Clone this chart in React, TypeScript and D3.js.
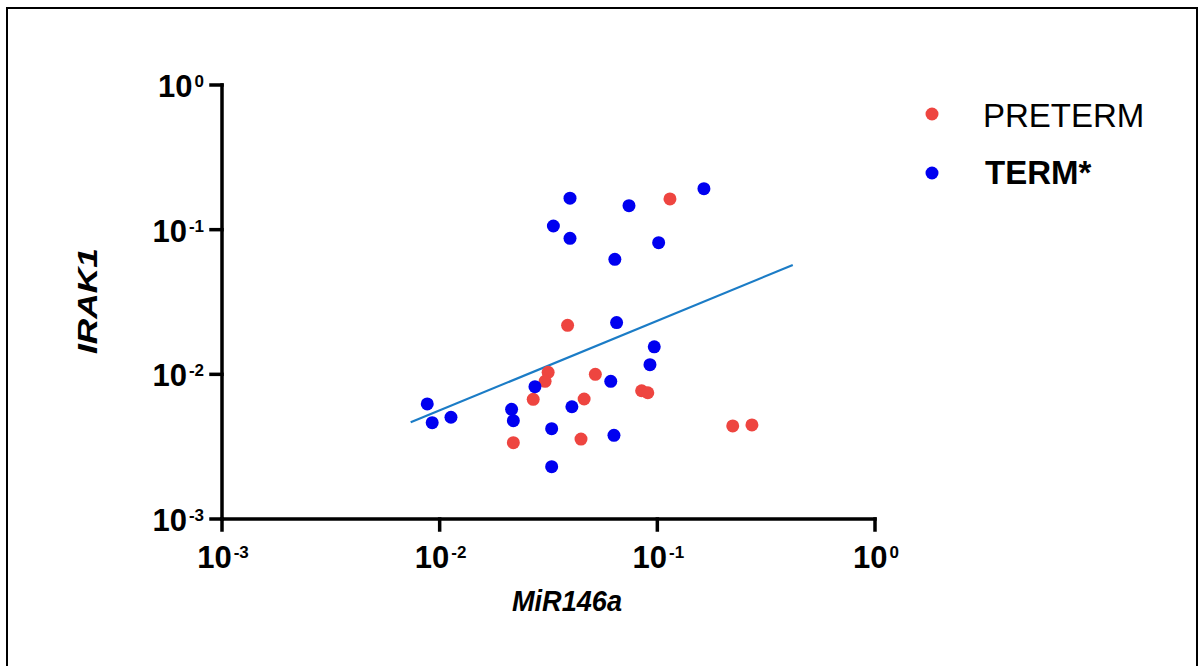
import React from "react";
import * as d3 from "d3";

const pretermX = [0.1143, 0.0387, 0.0315, 0.0305, 0.0519, 0.0269, 0.0461, 0.0847, 0.0904, 0.0218, 0.0446, 0.222, 0.272];
const pretermY = [0.163, 0.0218, 0.01033, 0.00895, 0.01, 0.00672, 0.00675, 0.0077, 0.00746, 0.00337, 0.00357, 0.0044, 0.00447];

const termX = [0.0397, 0.0741, 0.1637, 0.0333, 0.0397, 0.1014, 0.0638, 0.065, 0.0968, 0.0925, 0.0611, 0.0274, 0.0214, 0.0218, 0.0405, 0.0327, 0.0632, 0.0327, 0.00877, 0.00924, 0.01127];
const termY = [0.165, 0.1465, 0.192, 0.106, 0.0871, 0.0813, 0.0624, 0.0228, 0.0155, 0.01166, 0.00895, 0.00822, 0.00573, 0.00478, 0.00597, 0.00421, 0.00379, 0.0023, 0.00624, 0.00463, 0.00505];

const fitX = [0.00736, 0.419];
const fitY = [0.00466, 0.057];

const tickValues = [0.001, 0.01, 0.1, 1];
const tickExponents = ["-3", "-2", "-1", "0"];

const seriesNames = ["PRETERM", "TERM*"];
const xLabel = "MiR146a";
const yLabel = "IRAK1";

const FONT = "'Liberation Sans', Arial, sans-serif";
const RED = "#EE4540";
const BLUE = "#0000F0";

export default function App() {
  const x = d3.scaleLog().domain([1e-3, 1]).range([222, 875]);
  const y = d3.scaleLog().domain([1e-3, 1]).range([519, 85]);
  const line = d3
    .line<number>()
    .x((d) => x(d))
    .y((_, i) => y(fitY[i]));

  const pre = pretermX.map((v, i) => [v, pretermY[i]]);
  const term = termX.map((v, i) => [v, termY[i]]);

  return (
    <svg
      width={1200}
      height={666}
      style={{ position: "absolute", left: 0, top: 0, background: "#fff" }}
      fontFamily={FONT}
    >
      <rect x={0} y={0} width={1200} height={666} fill="#fff" />
      <rect x={7} y={8} width={1190} height={700} fill="none" stroke="#000" strokeWidth={2} />

      {/* axes */}
      <g stroke="#000" strokeWidth={3.5} fill="none" strokeLinecap="square">
        <line x1={x(1e-3)} x2={x(1e-3)} y1={y(1)} y2={y(1e-3)} />
        <line x1={x(1e-3)} x2={x(1)} y1={y(1e-3)} y2={y(1e-3)} />
        {tickValues.map((t, i) => (
          <line key={"yt" + i} x1={x(1e-3) - 11} x2={x(1e-3)} y1={y(t)} y2={y(t)} />
        ))}
        {tickValues.map((t, i) => (
          <line key={"xt" + i} x1={x(t)} x2={x(t)} y1={y(1e-3)} y2={y(1e-3) + 11} />
        ))}
      </g>

      {/* y tick labels */}
      {tickValues.map((t, i) => (
        <text
          key={"yl" + i}
          x={204}
          y={y(t) + 12}
          textAnchor="end"
          fontWeight="bold"
          fontSize={31}
          fill="#000"
        >
          10
          <tspan fontSize={17} dy={-10} dx={2}>
            {tickExponents[i]}
          </tspan>
        </text>
      ))}

      {/* x tick labels */}
      {tickValues.map((t, i) => (
        <text
          key={"xl" + i}
          x={x(t) + 1}
          y={568}
          textAnchor="middle"
          fontWeight="bold"
          fontSize={31}
          fill="#000"
        >
          10
          <tspan fontSize={17} dy={-10} dx={2}>
            {tickExponents[i]}
          </tspan>
        </text>
      ))}

      {/* axis titles */}
      <text
        x={567}
        y={611}
        textAnchor="middle"
        fontWeight="bold"
        fontStyle="italic"
        fontSize={29}
        textLength={110}
        lengthAdjust="spacingAndGlyphs"
        fill="#000"
      >
        {xLabel}
      </text>
      <text
        transform="translate(97,301) rotate(-90)"
        textAnchor="middle"
        fontWeight="bold"
        fontStyle="italic"
        fontSize={27}
        textLength={106}
        lengthAdjust="spacingAndGlyphs"
        fill="#000"
      >
        {yLabel}
      </text>

      {/* fit line */}
      <path d={line(fitX) || ""} fill="none" stroke="#1B7CC6" strokeWidth={2.2} />

      {/* points */}
      {pre.map((d, i) => (
        <circle key={"p" + i} cx={x(d[0])} cy={y(d[1])} r={6.5} fill={RED} />
      ))}
      {term.map((d, i) => (
        <circle key={"t" + i} cx={x(d[0])} cy={y(d[1])} r={6.5} fill={BLUE} />
      ))}

      {/* legend */}
      <circle cx={932} cy={114} r={6.5} fill={RED} />
      <circle cx={932} cy={173} r={6.5} fill={BLUE} />
      <text x={983} y={127} fontSize={33} fill="#000">
        {seriesNames[0]}
      </text>
      <text x={985} y={184} fontSize={33} fontWeight="bold" fill="#000">
        {seriesNames[1]}
      </text>
    </svg>
  );
}
